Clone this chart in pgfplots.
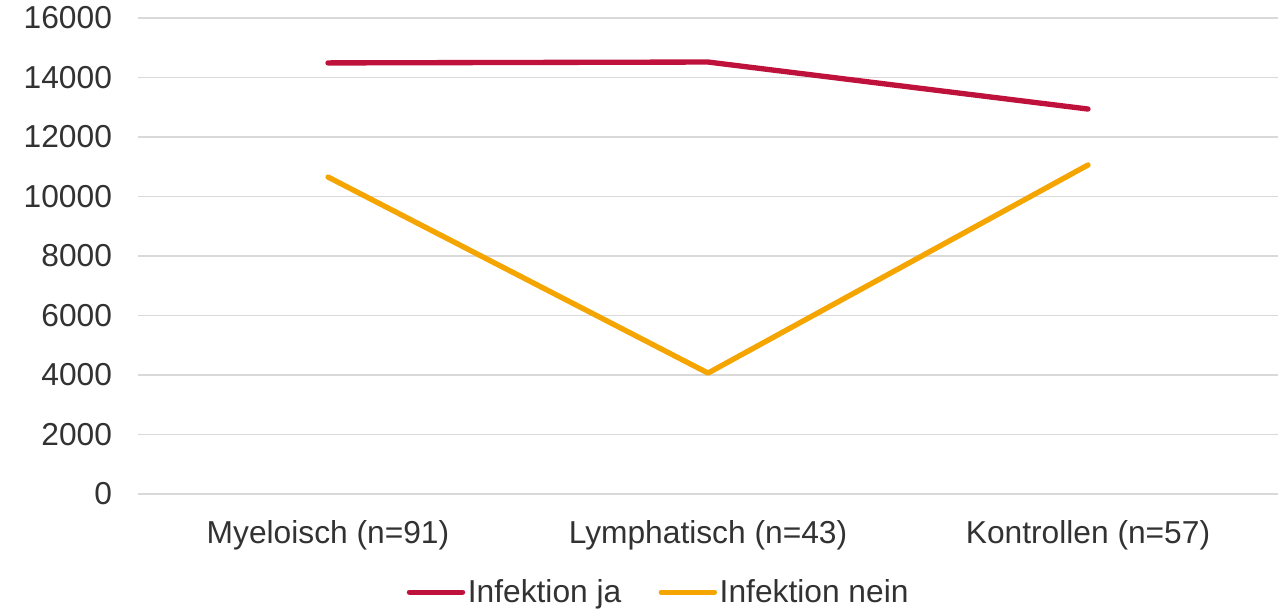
\documentclass[border=0pt]{standalone}
\usepackage{pgfplots}
\pgfplotsset{compat=1.18}
\usepackage{fontspec}
\setmainfont{Liberation Sans}
\definecolor{cred}{RGB}{190,18,60}
\definecolor{corange}{RGB}{245,165,0}
\definecolor{gridc}{RGB}{217,217,217}
\definecolor{txt}{RGB}{50,50,50}
\begin{document}
\begin{tikzpicture}
\useasboundingbox (0,0) rectangle (960.75pt,456pt);
\begin{axis}[
  at={(103.5pt,85.5pt)}, anchor=south west,
  scale only axis, width=855pt, height=357pt,
  xmin=-0.5, xmax=2.5, ymin=0, ymax=16000,
  xtick={0,1,2},
  xticklabels={Myeloisch (n=91),Lymphatisch (n=43),Kontrollen (n=57)},
  ytick={0,2000,...,16000},
  scaled y ticks=false,
  ymajorgrids, grid style={gridc, line width=0.9pt},
  axis line style={draw=none},
  major tick length=0pt,
  tick label style={font=\fontsize{23.8}{26}\selectfont, text=txt},
  /pgf/number format/assume math mode=true,
  /pgf/number format/1000 sep={},
  yticklabel style={xshift=-16pt},
  xticklabel style={yshift=-16pt},
  legend style={draw=none, fill=none, at={(0.457,-0.206)}, anchor=center,
    font=\fontsize{23.8}{26}\selectfont, text=txt, legend columns=2,
    /tikz/every even column/.append style={column sep=26pt},
    inner sep=0pt},
  legend cell align=left,
  legend image code/.code={\draw[#1, line width=3.8pt, line cap=round] (0pt,0pt) -- (40pt,0pt);},
  every axis plot/.append style={line width=4pt, line join=round, line cap=round},
]
\addplot[cred] coordinates {(0,14490) (1,14520) (2,12940)};
\addlegendentry{Infektion ja}
\addplot[corange] coordinates {(0,10655) (1,4065) (2,11060)};
\addlegendentry{Infektion nein}
\end{axis}
\end{tikzpicture}
\end{document}
